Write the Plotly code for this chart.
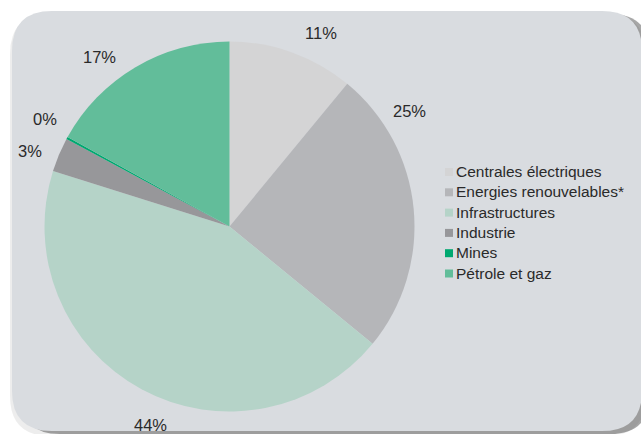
import math
import plotly.graph_objects as go

# ---- data ----
labels = ["Centrales électriques", "Energies renouvelables*", "Infrastructures",
          "Industrie", "Mines", "Pétrole et gaz"]
values = [11, 25, 44, 3, 0.2, 17]
pct_text = ["11%", "25%", "44%", "3%", "0%", "17%"]
colors = ["#d4d4d5", "#b5b6b9", "#b5d3c8", "#97979a", "#00a870", "#62bd9a"]

# ---- layout constants (pixels) ----
W, H = 641, 434
CX, CY, R = 229.5, 226.5, 185
label_r = 1.155
label_shift_deg = [5.5, -27, -6.7, -2, 1.5, -6.9]


def px(x):
    return x / W


def py(y):
    return 1 - y / H


fig = go.Figure()
fig.add_trace(go.Pie(
    labels=labels, values=values, sort=False, direction="clockwise", rotation=0,
    marker=dict(colors=colors, line=dict(width=0)),
    textinfo="none", hoverinfo="label+percent", showlegend=False,
    domain=dict(x=[px(CX - R), px(CX + R)], y=[py(CY + R), py(CY - R)]),
))


def rrect(x0, y0, x1, y1, r):
    pts = [("M", [(x0 + r, y0)]), ("L", [(x1 - r, y0)]), ("Q", [(x1, y0), (x1, y0 + r)]),
           ("L", [(x1, y1 - r)]), ("Q", [(x1, y1), (x1 - r, y1)]),
           ("L", [(x0 + r, y1)]), ("Q", [(x0, y1), (x0, y1 - r)]),
           ("L", [(x0, y0 + r)]), ("Q", [(x0, y0), (x0 + r, y0)])]
    s = ""
    for cmd, ps in pts:
        s += cmd + " ".join(f"{px(a):.5f},{py(b):.5f}" for a, b in ps)
    return s + "Z"


shapes = [
    dict(type="path", path=rrect(10, 14, 646, 436, 40), xref="paper", yref="paper",
         fillcolor="rgba(0,0,0,0.07)", line=dict(width=0), layer="below"),
    dict(type="path", path=rrect(20, 14, 650, 434, 40), xref="paper", yref="paper",
         fillcolor="rgba(60,60,60,0.45)", line=dict(width=0), layer="below"),
    dict(type="path", path=rrect(12, 11, 642, 431, 40), xref="paper", yref="paper",
         fillcolor="#d9dce0", line=dict(width=0), layer="below"),
]

annotations = []
total = sum(values)
cum = 0
for i, v in enumerate(values):
    mid = (cum + v / 2) / total * 360 + label_shift_deg[i]
    cum += v
    a = math.radians(mid)
    lx = CX + label_r * R * math.sin(a)
    ly = CY - label_r * R * math.cos(a)
    annotations.append(dict(x=px(lx), y=py(ly), xref="paper", yref="paper",
                            text=pct_text[i], showarrow=False, xanchor="center", yanchor="middle",
                            font=dict(size=16.5, color="#2a2a2a", family="Liberation Sans, Arial")))

# manual legend
LX, LY0, LDY = 445, 171.5, 20.3
for i, lab in enumerate(labels):
    yc = LY0 + i * LDY
    shapes.append(dict(type="rect", xref="paper", yref="paper",
                       x0=px(LX), x1=px(LX + 8), y0=py(yc + 4.5), y1=py(yc - 3.5),
                       fillcolor=colors[i], line=dict(width=0)))
    annotations.append(dict(x=px(LX + 9), y=py(yc), xref="paper", yref="paper",
                            text=lab, showarrow=False, xanchor="left", yanchor="middle",
                            font=dict(size=15.5, color="#2a2a2a", family="Liberation Sans, Arial")))

fig.update_layout(width=W, height=H, margin=dict(l=0, r=0, t=0, b=0),
                  paper_bgcolor="white", plot_bgcolor="white",
                  shapes=shapes, annotations=annotations, showlegend=False)
fig.write_html("out.html")
